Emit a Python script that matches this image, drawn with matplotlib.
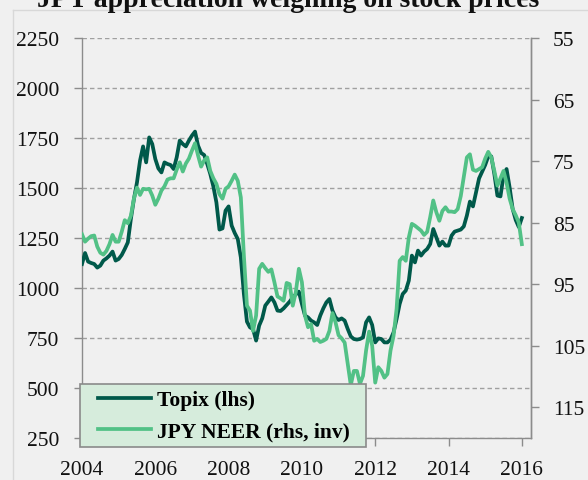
import numpy as np
import matplotlib
matplotlib.use("Agg")
import matplotlib.pyplot as plt
from matplotlib.lines import Line2D
from matplotlib.patches import Rectangle

plt.rcParams['font.family'] = ['Liberation Serif', 'DejaVu Serif']

title = "JPY appreciation weighing on stock prices"
start_year = 2004
topix = [1120, 1175, 1132, 1125, 1120, 1102, 1112, 1137, 1148, 1162, 1182, 1137,
         1145, 1165, 1195, 1228, 1345, 1445, 1528, 1637, 1708, 1628, 1753, 1720,
         1645, 1598, 1578, 1628, 1620, 1615, 1595, 1653, 1737, 1720, 1708, 1737,
         1762, 1782, 1712, 1675, 1665, 1620, 1570, 1508, 1428, 1292, 1298, 1387,
         1408, 1312, 1275, 1245, 1153, 970, 832, 803, 795, 737, 812, 848,
         912, 932, 953, 928, 887, 885, 898, 915, 932, 953, 968, 982,
         920, 862, 853, 837, 828, 815, 862, 898, 928, 945, 887, 853,
         840, 848, 837, 795, 758, 745, 742, 745, 753, 828, 853, 815,
         728, 748, 745, 728, 728, 742, 778, 845, 920, 970, 987, 1037,
         1162, 1128, 1187, 1162, 1182, 1195, 1220, 1295, 1253, 1212, 1232, 1212,
         1212, 1262, 1282, 1287, 1292, 1308, 1362, 1432, 1408, 1478, 1548, 1582,
         1615, 1658, 1658, 1570, 1462, 1458, 1562, 1595, 1503, 1395, 1340, 1305,
         1350]
neer = [86.9, 88.1, 87.6, 87.2, 87.1, 88.9, 89.9, 90.2, 89.6, 88.5, 87.0, 88.1,
        88.1, 86.5, 84.6, 85.1, 83.9, 81.1, 79.3, 80.5, 79.5, 79.6, 79.5, 80.6,
        82.1, 81.1, 79.8, 79.1, 78.0, 77.8, 77.8, 76.4, 75.2, 76.7, 75.4, 74.6,
        73.3, 72.1, 74.1, 75.9, 74.9, 74.4, 76.6, 77.8, 78.7, 80.4, 81.1, 79.5,
        79.1, 78.2, 77.2, 78.2, 80.9, 90.4, 98.5, 99.3, 102.6, 100.1, 92.5, 91.7,
        92.4, 93.0, 92.6, 94.7, 97.0, 97.3, 97.7, 94.8, 95.0, 98.5, 96.3, 92.5,
        94.7, 100.1, 102.0, 101.5, 104.2, 103.9, 104.4, 104.2, 103.9, 102.6, 99.7, 101.2,
        103.3, 103.8, 104.5, 108.0, 111.4, 109.1, 109.1, 111.2, 109.9, 105.8, 102.7, 105.0,
        111.0, 108.5, 109.1, 110.2, 109.6, 105.8, 103.4, 99.0, 91.2, 90.6, 91.2, 87.4,
        85.2, 85.5, 85.9, 86.3, 87.0, 86.5, 84.1, 81.4, 83.3, 84.7, 83.1, 82.5,
        83.2, 83.2, 83.3, 82.8, 80.7, 77.6, 74.4, 73.9, 76.4, 76.6, 76.3, 76.0,
        74.6, 73.5, 74.4, 76.6, 79.0, 77.8, 76.6, 78.5, 81.1, 82.8, 83.8, 85.0,
        88.5]
left_ticks = [250, 500, 750, 1000, 1250, 1500, 1750, 2000, 2250]
right_ticks = [55, 65, 75, 85, 95, 105, 115]
x_ticks = [2004, 2006, 2008, 2010, 2012, 2014, 2016]
labels = ["Topix (lhs)", "JPY NEER (rhs, inv)"]

dark = "#00594a"
light = "#52c186"
axis_col = "#8c8c8c"
bg = "#f0f0f0"

W, H = 588, 481
fig = plt.figure(figsize=(W / 100, H / 100), dpi=100, facecolor=bg)

# inner frame lines
fig.add_artist(Line2D([13 / W, 13 / W], [0, 1 - 11 / H], color="#d8d8d8", lw=1))
fig.add_artist(Line2D([13 / W, 1], [1 - 11 / H, 1 - 11 / H], color="#d8d8d8", lw=1))

ax = fig.add_axes([82 / W, 1 - 439 / H, (531 - 82) / W, 400 / H])
ax.set_facecolor(bg)
years = start_year + np.arange(len(topix)) / 12.0

ax.set_xlim(2004, 2016.25)
ax.set_ylim(250, 2250)
ax.set_yticks(left_ticks)
ax.set_xticks(x_ticks)
ax.yaxis.grid(True, color="#a0a0a0", lw=1.0, linestyle=(0, (3.2, 2.2)))
ax.set_axisbelow(True)
ax.spines["top"].set_visible(False)
for s in ["left", "bottom", "right"]:
    ax.spines[s].set_color(axis_col)
    ax.spines[s].set_linewidth(1.0)
ax.tick_params(axis="both", colors=axis_col, length=5.8, width=1.0,
               labelsize=15.5, labelcolor="#111111")
ax.tick_params(axis="y", pad=10.5)
ax.tick_params(axis="x", pad=10)

ax.plot(years, topix, color=dark, lw=2.7, solid_joinstyle="round", zorder=3)

ax2 = ax.twinx()
ax2.set_ylim(120, 55)
ax2.set_yticks(right_ticks)
for s in ["top", "left", "bottom"]:
    ax2.spines[s].set_visible(False)
ax2.spines["right"].set_color(axis_col)
ax2.spines["right"].set_linewidth(1.0)
ax2.tick_params(axis="y", colors=axis_col, length=5.8, width=1.0,
                labelsize=15.5, labelcolor="#111111", pad=10)
ax2.plot(years, neer, color=light, lw=2.7, solid_joinstyle="round", zorder=3)

# legend box
fig.add_artist(Rectangle((80 / W, 1 - 448 / H), (366 - 80) / W, (448 - 385) / H,
                         transform=fig.transFigure, facecolor="#d6ecdc",
                         edgecolor="#8a8a8a", lw=1.2, zorder=4))
handles = [Line2D([], [], color=dark, lw=2.7), Line2D([], [], color=light, lw=2.7)]
leg = fig.legend(handles, labels, loc="upper left",
                 bbox_to_anchor=(98 / W, 1 - 391 / H), frameon=False,
                 prop={"weight": "bold", "size": 15.5}, handlelength=2.45,
                 handletextpad=0.3, labelspacing=0.52, borderpad=0.0,
                 borderaxespad=0.0)
leg.set_zorder(5)

fig.text(288 / W, 1 - 7 / H, title, ha="center", va="baseline",
         fontsize=20, fontweight="bold", color="#111111")

fig.savefig("out.png", dpi=100, facecolor=bg)
